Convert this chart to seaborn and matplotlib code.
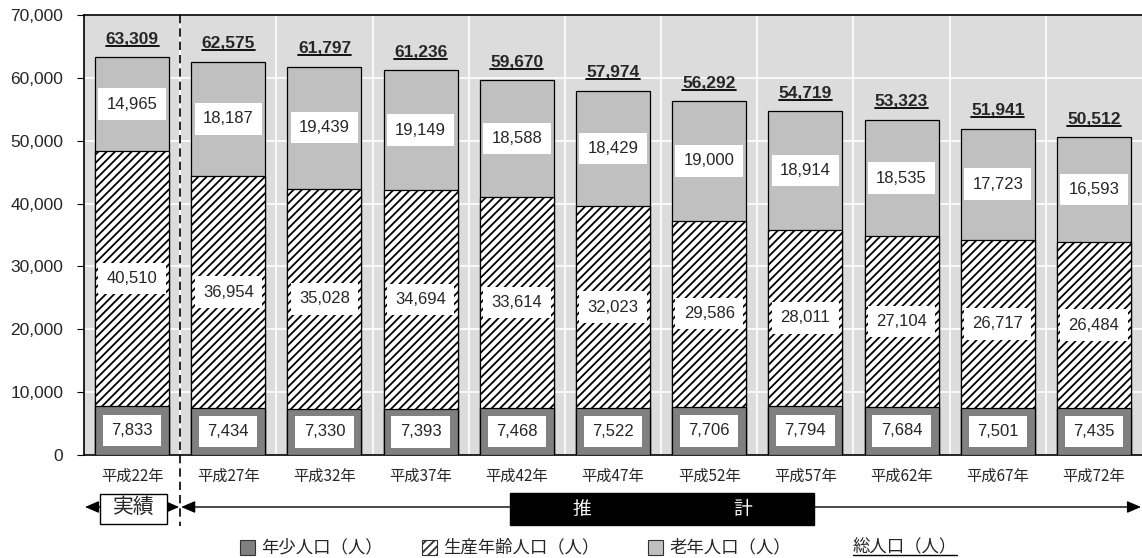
import matplotlib
matplotlib.use("Agg")
import matplotlib.pyplot as plt
import matplotlib.transforms as mtransforms
from matplotlib.patches import Rectangle
from matplotlib.lines import Line2D
import seaborn as sns
import pandas as pd

# ---- data ----
categories = ["平成22年", "平成27年", "平成32年", "平成37年", "平成42年", "平成47年",
              "平成52年", "平成57年", "平成62年", "平成67年", "平成72年"]
young = [7833, 7434, 7330, 7393, 7468, 7522, 7706, 7794, 7684, 7501, 7435]
working = [40510, 36954, 35028, 34694, 33614, 32023, 29586, 28011, 27104, 26717, 26484]
old = [14965, 18187, 19439, 19149, 18588, 18429, 19000, 18914, 18535, 17723, 16593]
total = [63309, 62575, 61797, 61236, 59670, 57974, 56292, 54719, 53323, 51941, 50512]
yticks = [0, 10000, 20000, 30000, 40000, 50000, 60000, 70000]
legend_labels = ["年少人口（人）", "生産年齢人口（人）", "老年人口（人）", "総人口（人）"]

df = pd.DataFrame({"cat": categories, "young": young, "working": working,
                   "old": old, "total": total})
df["yw"] = df["young"] + df["working"]

sns.set_theme(style="white")
plt.rcParams["font.family"] = ["Liberation Sans", "Noto Sans CJK JP", "DejaVu Sans"]
plt.rcParams["hatch.linewidth"] = 1.3

C_BG = "#dcdcdc"
C_OLD = "#c0c0c0"
C_YOUNG = "#808080"
JP = ["Noto Sans CJK JP", "DejaVu Sans"]
NUM = ["Liberation Sans", "DejaVu Sans"]

W, H = 1142, 558
fig = plt.figure(figsize=(W / 100, H / 100), dpi=100)
ax = fig.add_axes([84 / W, 1 - 455 / H, 1 - 84 / W, (455 - 15) / H])
ax.set_facecolor(C_BG)

bw = 0.77
sns.barplot(data=df, x="cat", y="total", order=categories, color=C_OLD, saturation=1,
            width=bw, edgecolor="black", linewidth=0.9, errorbar=None, ax=ax, zorder=3)
sns.barplot(data=df, x="cat", y="yw", order=categories, color="white", saturation=1,
            width=bw, edgecolor="black", linewidth=0.9, hatch="////", errorbar=None,
            ax=ax, zorder=3)
sns.barplot(data=df, x="cat", y="young", order=categories, color=C_YOUNG, saturation=1,
            width=bw, edgecolor="black", linewidth=0.9, errorbar=None, ax=ax, zorder=3)

ax.set_xlim(-0.5, len(categories) - 0.5)
ax.set_ylim(0, 70000)
ax.set_yticks(yticks)
ax.set_yticklabels([f"{v:,}" for v in yticks], fontsize=12.5, family=NUM)
ax.set_xticks(range(len(categories)))
ax.set_xticklabels(categories, fontsize=11, family=JP)
ax.set_xlabel("")
ax.set_ylabel("")
ax.set_xticks([i + 0.5 for i in range(len(categories) - 1)], minor=True)
ax.tick_params(axis="x", which="major", length=0, pad=9)
ax.tick_params(axis="x", which="minor", direction="in", length=4, width=0.8, color="black")
ax.tick_params(axis="y", which="major", direction="out", length=5, width=0.8,
               color="black", pad=10, left=True)
ax.grid(True, axis="y", which="major", color="white", linewidth=1.2, zorder=0)
ax.grid(True, axis="x", which="minor", color="white", linewidth=1.2, zorder=0)
ax.set_axisbelow(True)
for s in ["left", "top", "bottom"]:
    ax.spines[s].set_visible(True)
    ax.spines[s].set_color("black")
    ax.spines[s].set_linewidth(1.2)
ax.spines["right"].set_visible(False)

# segment labels
box = dict(boxstyle="square,pad=0.5", facecolor="white", edgecolor="none")
for i in range(len(categories)):
    segs = [(0, young[i]), (young[i], young[i] + working[i]),
            (young[i] + working[i], total[i])]
    vals = [young[i], working[i], old[i]]
    for (b, t), v in zip(segs, vals):
        ax.text(i, (b + t) / 2, f"{v:,}", ha="center", va="center", fontsize=12,
                family=NUM, bbox=box, zorder=5)

tot_texts = []
for i, v in enumerate(total):
    t = ax.annotate(f"{v:,}", (i, v), xytext=(0, 10), textcoords="offset points",
                    ha="center", va="baseline", fontsize=12.5, fontweight="bold",
                    family=NUM, zorder=5)
    tot_texts.append((t, i, v))

# period markers below axis
trans = mtransforms.blended_transform_factory(ax.transData, ax.transAxes)
def ay(px):
    return (455 - px) / 440

ax.add_line(Line2D([0.5, 0.5], [1.0, ay(526)], transform=trans, color="black",
                   linestyle=(0, (5, 3)), linewidth=1.2, clip_on=False, zorder=6))

arrow_y = ay(507)
ap = dict(arrowstyle="-|>,head_length=0.7,head_width=0.3", color="black", lw=1.0,
          shrinkA=0, shrinkB=0)
ax.annotate("", xy=(-0.49, arrow_y), xytext=(-0.33, arrow_y), xycoords=trans,
            textcoords=trans, arrowprops=ap, annotation_clip=False)
ax.annotate("", xy=(0.49, arrow_y), xytext=(0.36, arrow_y), xycoords=trans,
            textcoords=trans, arrowprops=ap, annotation_clip=False)
ax.annotate("", xy=(0.51, arrow_y), xytext=(5.0, arrow_y), xycoords=trans,
            textcoords=trans, arrowprops=ap, annotation_clip=False)
ax.annotate("", xy=(10.49, arrow_y), xytext=(5.0, arrow_y), xycoords=trans,
            textcoords=trans, arrowprops=ap, annotation_clip=False)

ax.add_patch(Rectangle((-0.33, ay(524)), 0.69, ay(494) - ay(524), transform=trans,
                       facecolor="white", edgecolor="black", linewidth=1.0,
                       clip_on=False, zorder=7))
ax.text(0.015, arrow_y, "実績", transform=trans, ha="center", va="center",
        fontsize=15, family=JP, zorder=8)

ax.add_patch(Rectangle((3.93, ay(525)), 3.16, ay(493) - ay(525), transform=trans,
                       facecolor="black", edgecolor="black", clip_on=False, zorder=7))
ax.text(4.68, ay(509), "推", transform=trans, ha="center", va="center",
        fontsize=13.5, color="white", family=JP, zorder=8)
ax.text(6.35, ay(509), "計", transform=trans, ha="center", va="center",
        fontsize=13.5, color="white", family=JP, zorder=8)

# legend (manual)
def fx(px):
    return px / W
def fy(py):
    return 1 - py / H

ly = 547
sq = 15
fig.add_artist(Rectangle((fx(240), fy(ly + sq / 2)), sq / W, sq / H, transform=fig.transFigure,
                         facecolor=C_YOUNG, edgecolor="#333333", linewidth=0.8))
fig.add_artist(Rectangle((fx(422), fy(ly + sq / 2)), sq / W, sq / H, transform=fig.transFigure,
                         facecolor="white", edgecolor="#333333", linewidth=0.8, hatch="////"))
fig.add_artist(Rectangle((fx(648), fy(ly + sq / 2)), sq / W, sq / H, transform=fig.transFigure,
                         facecolor=C_OLD, edgecolor="#333333", linewidth=0.8))
fs_leg = 12.5
fig.text(fx(261), fy(ly), legend_labels[0], ha="left", va="center", fontsize=fs_leg, family=JP)
fig.text(fx(443), fy(ly), legend_labels[1], ha="left", va="center", fontsize=fs_leg, family=JP)
fig.text(fx(669), fy(ly), legend_labels[2], ha="left", va="center", fontsize=fs_leg, family=JP)
lt = fig.text(fx(853), fy(ly), legend_labels[3], ha="left", va="center", fontsize=fs_leg, family=JP)

# underlines
fig.canvas.draw()
r = fig.canvas.get_renderer()
for t, i, v in tot_texts:
    bb = t.get_window_extent(r)
    base = ax.transData.transform((i, v))[1] + 10 * 100 / 72
    yy = base - 2.5
    fig.add_artist(Line2D([bb.x0 / W, bb.x1 / W], [yy / H, yy / H], transform=fig.transFigure,
                          color="black", linewidth=1.3))
bb = lt.get_window_extent(r)
yy = bb.y0 + 1
fig.add_artist(Line2D([bb.x0 / W, bb.x1 / W], [yy / H, yy / H], transform=fig.transFigure,
                      color="black", linewidth=1.0))

fig.savefig("out.png", dpi=100)
